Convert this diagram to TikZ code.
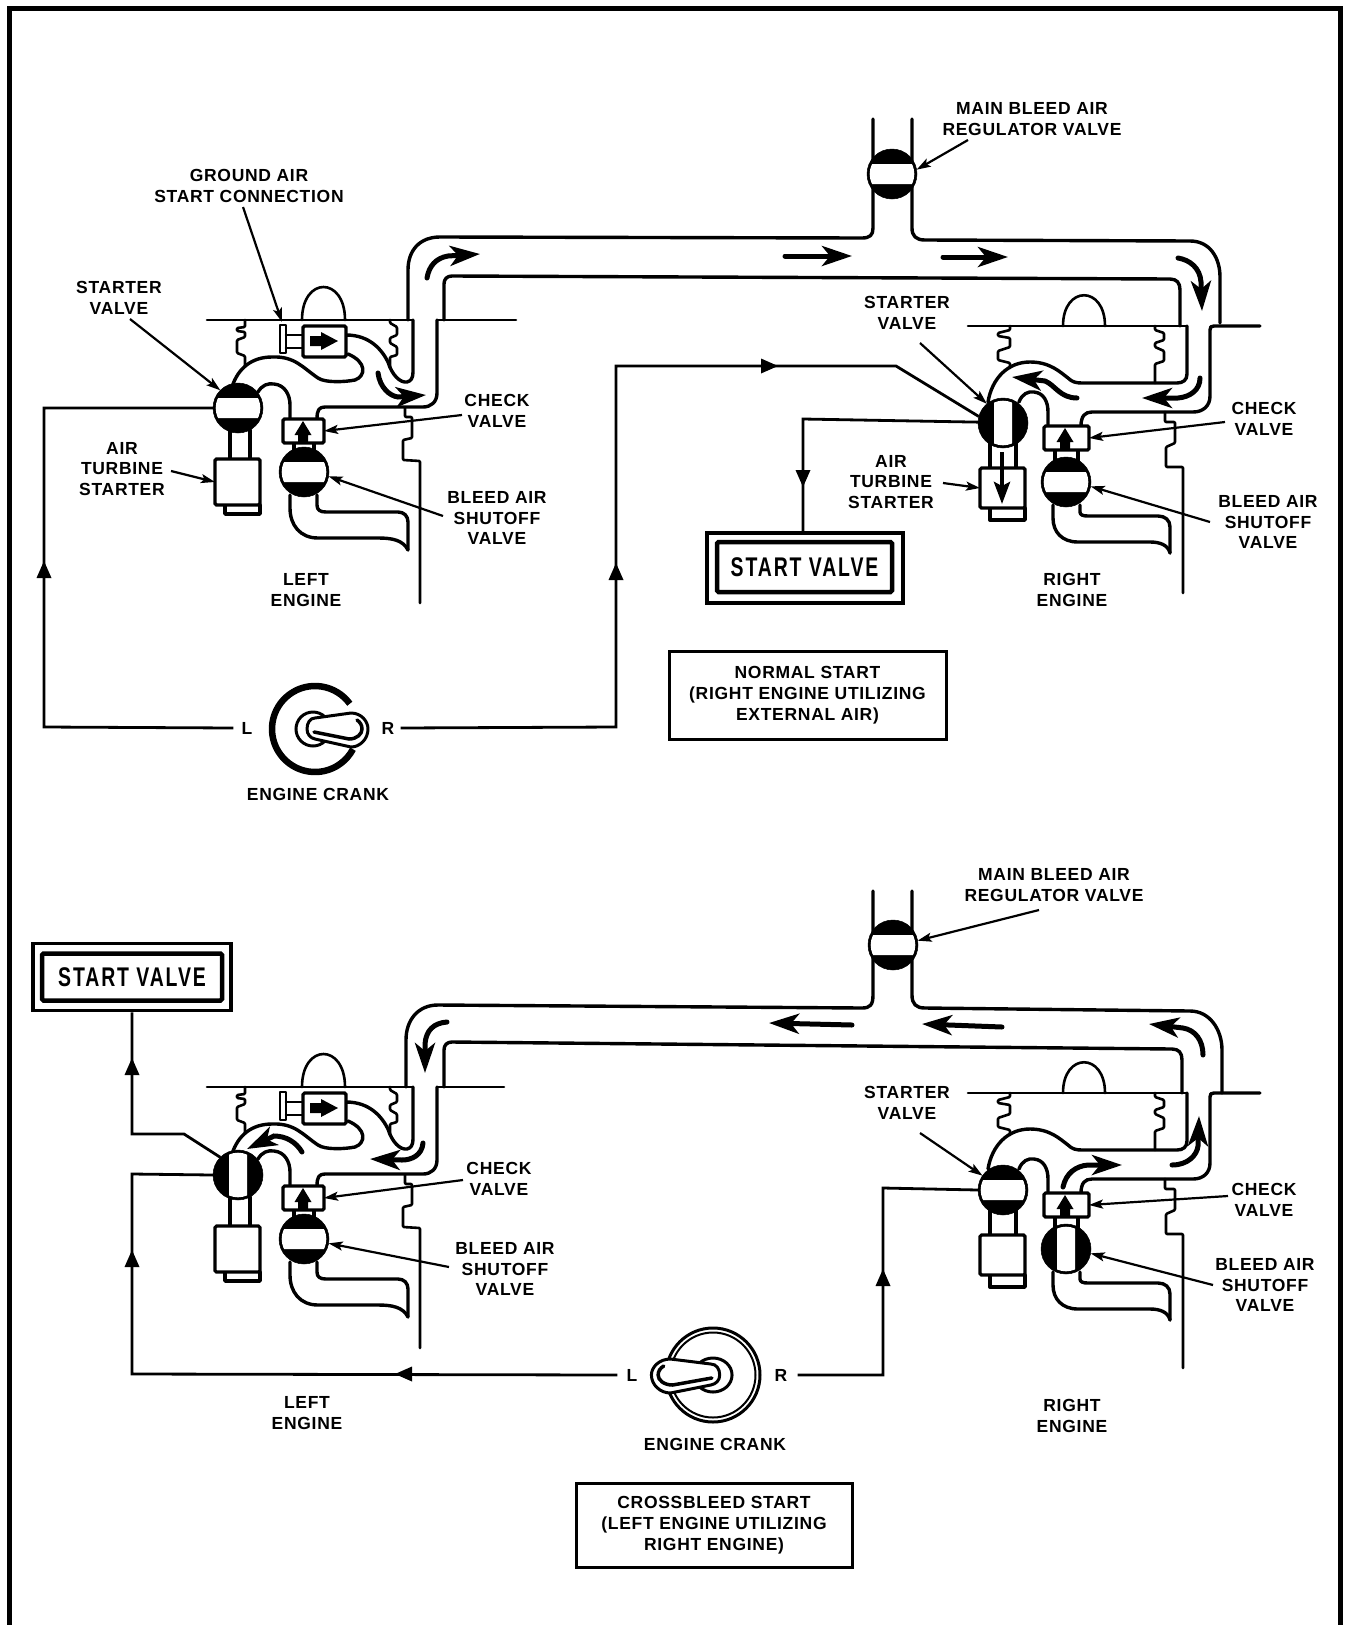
\documentclass[tikz,border=0pt]{standalone}
\usepackage{fontspec}
\setmainfont[LetterSpace=4]{Liberation Sans}
\newfontfamily\svfont[FakeStretch=0.72,LetterSpace=7]{Liberation Sans}
\usetikzlibrary{arrows.meta}
\tikzset{
  pipe/.style={line width=3.4pt,line cap=round,line join=round},
  thin line/.style={line width=2.6pt,line cap=round,line join=round},
  ctl/.style={line width=2.8pt,line join=miter},
  lead/.style={line width=2.2pt,-{Stealth[length=14pt,width=9pt,inset=3pt]}},
  flow/.style={line width=5pt,line cap=round,-{Stealth[length=30pt,width=20pt,inset=8pt]}},
  lbl/.style={align=center,inner sep=0pt,font=\fontsize{17.5}{20.7}\selectfont\bfseries},
  valvebody/.style={circle,fill=black,draw=black,line width=0.5pt,minimum size=50pt,inner sep=0pt,outer sep=0pt},
  boxw/.style={rectangle,draw=black,fill=white,line width=3.2pt,rounded corners=1.5pt,inner sep=0pt,outer sep=0pt},
  titlebox/.style={rectangle,draw=black,line width=3pt,inner sep=0pt,align=center,font=\fontsize{17.5}{20.7}\selectfont\bfseries},
  svouter/.style={rectangle,draw=black,fill=white,line width=3.5pt,inner sep=0pt},
  svinner/.style={rectangle,draw=black,fill=white,line width=4.5pt,rounded corners=1.5pt,inner sep=0pt,font=\svfont\fontsize{27}{27}\selectfont\bfseries},
}
\newcommand\valve[5]{%
  \node[valvebody] (#1) at (#2,#3) {};
  \begin{scope}
    \clip (#2,#3) circle[radius=22.3pt];
    \fill[white,rounded corners=3pt,shift={(#2,#3)}] (-#4,-#5) rectangle (#4,#5);
  \end{scope}}
\newcommand\ctlmark[3]{\fill[shift={(#1,#2)},rotate=#3] (9,0) -- (-8,-7.5) -- (-8,7.5) -- cycle;}
\newcommand\blockup[2]{\fill[shift={(#1,#2)}] (0,-22) -- (8.5,-8) -- (5,-8) -- (5,0) -- (-5,0) -- (-5,-8) -- (-8.5,-8) -- cycle;}
\newcommand\engineL[6]{% suffix, dy, band half w, band half h, wall end, top line right end
\begin{scope}[shift={(0,#2)}]
  \draw[thin line] (207,320) -- (413,320) (437,320) -- (#6,320);
  \draw[thin line] (302,320) .. controls (302,276) and (345,276) .. (345,320);
  \draw[thin line,rounded corners=1pt] (245,320) -- (245,327) -- (237,328) -- (237,331) -- (245,332) -- (245,337) -- (237,340) -- (237,353) -- (245,356) -- (245,366);
  \draw[thin line,rounded corners=1pt] (390,320) -- (390,323) -- (397,327) -- (397,335) -- (390,338) -- (390,343) -- (397,347) -- (397,355) -- (390,357) -- (390,368);
  \draw[thin line,rounded corners=1pt] (405,408) -- (405,417) -- (412,417) -- (412,438) -- (403,440) -- (403,460) -- (420,461) -- (420,#5);
  % ducts
  \draw[pipe] (346,335) .. controls (370,335) and (382,350) .. (388,362) .. controls (392,375) and (400,383) .. (407,382) .. controls (411,381) and (413,378) .. (413,372) -- (413,320);
  \draw[pipe] (437,320) -- (437,393) .. controls (437,402) and (431,407) .. (423,407) -- (325,407) .. controls (319,407) and (317,410) .. (317,419);
  \draw[pipe] (232,387) .. controls (238,368) and (252,357) .. (272,357) .. controls (295,356) and (303,368) .. (318,378) .. controls (325,383) and (345,382) .. (355,380) .. controls (366,376) and (367,362) .. (348,354);
  \draw[pipe] (258,392) .. controls (262,385) and (268,383) .. (274,384) .. controls (285,385) and (290,395) .. (290,405) -- (290,419);
  \draw[pipe] (290,495) -- (290,508) .. controls (290,525) and (300,538) .. (318,538) -- (378,538) .. controls (392,538) and (403,540) .. (408,550);
  \draw[pipe] (317,495) -- (317,505) .. controls (317,510) and (320,512) .. (326,512) -- (398,512) .. controls (404,512) and (408,516) .. (408,522) -- (408,550);
  % ground connection
  \draw[thin line,fill=white] (280,325) rectangle (286,353);
  \draw[thin line] (286,335) -- (303,335) (286,348) -- (303,348);
  \node[boxw,minimum width=43pt,minimum height=31pt] (gnd#1) at (324.5,341.5) {};
  \fill (310,336) -- (321,336) -- (321,332) -- (338,341) -- (321,350) -- (321,346) -- (310,346) -- cycle;
  % starter
  \draw[pipe] (230,430) -- (230,462) (250,430) -- (250,462);
  \draw[pipe,fill=white] (225,505) -- (225,514) -- (260,514) -- (260,505);
  \node[boxw,minimum width=45pt,minimum height=46pt] (st#1) at (237.5,482) {};
  \valve{sv#1}{238}{408}{#3}{#4}
  % check + bleed
  \draw[pipe] (294,441) -- (294,452) (314,441) -- (314,452);
  \node[boxw,minimum width=41pt,minimum height=24pt] (ck#1) at (303.5,431) {};
  \blockup{303}{443}
  \valve{bv#1}{304}{472}{26}{10}
\end{scope}}
\newcommand\engineR[7]{% suffix, dy, sv hw, sv hh, bv hw, bv hh, wall end
\begin{scope}[shift={(0,#2)}]
  \draw[thin line] (968,326) -- (1187,326);
  \draw[thin line] (1063,326) .. controls (1063,285) and (1105,285) .. (1105,326);
  \draw[thin line,rounded corners=1pt] (1010,326) -- (1010,330) -- (998,333) -- (998,336) -- (1010,338) -- (1010,347) -- (998,351) -- (998,360) -- (1010,363) -- (1010,368);
  \draw[thin line,rounded corners=1pt] (1155,326) -- (1155,330) -- (1164,333) -- (1164,340) -- (1155,343) -- (1155,347) -- (1164,351) -- (1164,361) -- (1155,364) -- (1155,383);
  \draw[thin line,rounded corners=1pt] (1165,412) -- (1165,422) -- (1175,422) -- (1175,443) -- (1166,447) -- (1166,467) -- (1183,467) -- (1183,#7);
  \draw[pipe] (988,402) .. controls (992,378) and (1008,362) .. (1030,362) .. controls (1050,362) and (1060,372) .. (1068,378) .. controls (1072,382) and (1076,383) .. (1082,383) -- (1177,383) .. controls (1183,383) and (1187,380) .. (1187,374) -- (1187,326);
  \draw[pipe] (1019,402) .. controls (1022,394) and (1028,391) .. (1034,392) .. controls (1044,393) and (1048,402) .. (1048,412) -- (1048,427);
  \draw[pipe] (1260,326) -- (1214,326) .. controls (1211,326) and (1210,327) .. (1210,330) -- (1210,396) .. controls (1210,406) and (1203,412) .. (1193,412) -- (1092,412) .. controls (1085,412) and (1081,416) .. (1081,426);
  \draw[pipe] (1053,505) -- (1053,518) .. controls (1053,532) and (1062,542) .. (1078,542) -- (1150,542) .. controls (1160,542) and (1168,545) .. (1170,553);
  \draw[pipe] (1080,505) -- (1080,512) .. controls (1080,515) and (1083,516) .. (1088,516) -- (1158,516) .. controls (1165,516) and (1170,520) .. (1170,527) -- (1170,553);
  % starter
  \draw[pipe] (990,440) -- (990,470) (1016,440) -- (1016,470);
  \draw[pipe,fill=white] (990,508) -- (990,520) -- (1025,520) -- (1025,508);
  \node[boxw,minimum width=45pt,minimum height=40pt] (st#1) at (1002.5,488) {};
  \valve{sv#1}{1003}{423}{#3}{#4}
  % check + bleed
  \draw[pipe] (1055,448) -- (1055,462) (1078,448) -- (1078,462);
  \node[boxw,minimum width=45pt,minimum height=24pt] (ck#1) at (1066.5,438) {};
  \blockup{1065}{450}
  \valve{bv#1}{1066}{482}{#5}{#6}
\end{scope}}
\newcommand\toggleswitch[3]{% x,y,xscale
\begin{scope}[shift={(#1,#2)},xscale=#3]
  \draw[line width=3pt,fill=white] (0,0) circle[radius=17pt];
  \draw[line width=3pt,fill=white,line join=round] (-6,0) .. controls (-6,-6) and (-3,-11) .. (2,-11) -- (38,-16) .. controls (48,-16) and (55,-8) .. (55,0) .. controls (55,10) and (47,18) .. (38,18) -- (2,10) .. controls (-3,9) and (-6,5) .. (-6,0) -- cycle;
  \draw[line width=3.5pt,line cap=round] (1,3) -- (36,10) .. controls (44,10) and (49,5) .. (49,0) .. controls (49,-4) and (47,-7) .. (44,-9);
\end{scope}}
\begin{document}
\begin{tikzpicture}[x=1pt,y=-1pt]
\useasboundingbox (0,0) rectangle (1348,1625);
\fill[white] (0,0) rectangle (1348,1625);
% frame
\draw[line width=5pt,line join=miter] (9,1625) -- (9,8) -- (1340,8) -- (1340,1625);

%% ===== TOP =====
\engineL{A}{0}{26}{10}{603}{516}
\engineR{B}{0}{9}{26}{26}{10}{593}
\draw[pipe] (408,320) -- (408,270) .. controls (408,250) and (420,237) .. (440,237) -- (862,238) .. controls (870,238) and (873,235) .. (873,228) -- (873,119);
\draw[pipe] (912,119) -- (912,228) .. controls (912,236) and (916,240) .. (925,240) -- (1190,241) .. controls (1210,241) and (1220,258) .. (1220,277) -- (1220,323);
\draw[pipe] (444,320) -- (444,284) .. controls (444,279) and (447,276) .. (452,276) -- (1170,279) .. controls (1177,279) and (1180,283) .. (1180,290) -- (1180,326);
\valve{regA}{892}{174}{26}{10}
% flow
\draw[flow] (427,278) .. controls (429,266) and (436,258) .. (448,256) -- (480,254);
\draw[flow] (785,256) -- (852,256);
\draw[flow] (943,257) -- (1008,257);
\draw[flow] (1178,258) .. controls (1190,260) and (1200,268) .. (1201,282) -- (1202,311);
\draw[flow] (1200,378) .. controls (1200,390) and (1190,397) .. (1178,398) -- (1142,398);
\draw[flow] (1077,398) .. controls (1060,398) and (1055,385) .. (1045,381) -- (1012,377);
\draw[flow] (378,373) .. controls (380,388) and (390,396) .. (398,397) -- (426,395);
\draw[line width=4pt,-{Stealth[length=22pt,width=16pt,inset=4pt]}] (1002,452) -- (1002,504);
% labels
\node[lbl] (reglA) at (1032,119) {MAIN BLEED AIR\\REGULATOR VALVE};
\node[lbl] (gndl) at (249,186) {GROUND AIR\\START CONNECTION};
\node[lbl] (svlA) at (119,298) {STARTER\\VALVE};
\node[lbl] (stlA) at (122,469) {AIR\\TURBINE\\STARTER};
\node[lbl] (cklA) at (497,411) {CHECK\\VALVE};
\node[lbl] (bvlA) at (497,518) {BLEED AIR\\SHUTOFF\\VALVE};
\node[lbl] (svlB) at (907,313) {STARTER\\VALVE};
\node[lbl] (stlB) at (891,482) {AIR\\TURBINE\\STARTER};
\node[lbl] (cklB) at (1264,419) {CHECK\\VALVE};
\node[lbl] (bvlB) at (1268,522) {BLEED AIR\\SHUTOFF\\VALVE};
\node[lbl] (enA) at (306,590) {LEFT\\ENGINE};
\node[lbl] (enB) at (1072,590) {RIGHT\\ENGINE};
\node[lbl] (crA) at (318,794) {ENGINE CRANK};
\node[lbl] (LA) at (247,728) {L};
\node[lbl] (RA) at (388,728) {R};
\node[titlebox,minimum width=277pt,minimum height=88pt] (normal) at (807.5,695) {NORMAL START\\(RIGHT ENGINE UTILIZING\\EXTERNAL AIR)};
% leaders
\coordinate (s1) at (968,140);  \draw[lead] (s1) -- (regA.10);
\coordinate (s2) at (243,207);  \draw[lead] (s2) -- (282,322);
\coordinate (s3) at (130,319);  \draw[lead] (s3) -- (svA.135);
\coordinate (s4) at (171,471);  \draw[lead] (s4) -- (stA.west);
\coordinate (s5) at (462,415);  \draw[lead] (s5) -- (ckA.east);
\coordinate (s6) at (443,516);  \draw[lead] (s6) -- (bvA.-10);
\coordinate (s7) at (920,343);  \draw[lead] (s7) -- (svB.130);
\coordinate (s8) at (943,483);  \draw[lead] (s8) -- (stB.west);
\coordinate (s9) at (1225,422); \draw[lead] (s9) -- (ckB.east);
\coordinate (s10) at (1210,522);\draw[lead] (s10) -- (bvB.-10);
% switch
\draw[line width=6.5pt] (315,729) ++(36:43pt) arc[start angle=36,end angle=332,radius=43pt];
\toggleswitch{313}{729}{1}
% control wiring
\coordinate (a1) at (44,408); \coordinate (a2) at (44,727);
\draw[ctl] (svA.west) -- (a1) -- (a2) -- ([xshift=-8pt]LA.west);
\coordinate (b1) at (616,727); \coordinate (b2) at (616,366); \coordinate (b3) at (896,366);
\draw[ctl] ([xshift=6pt]RA.east) -- (b1) -- (b2) -- (b3) -- (svB.165);
\coordinate (c1) at (803,419);
\node[svouter,minimum width=196pt,minimum height=70pt] (boxA) at (805,568) {};
\node[svinner,minimum width=175pt,minimum height=50pt] (boxAi) at (804.5,567) {START VALVE};
\draw[ctl] (svB.178) -- (c1) -- (c1 |- boxA.north);
\ctlmark{44}{570}{90}
\ctlmark{616}{572}{90}
\ctlmark{769}{366}{0}
\ctlmark{803}{478}{270}

%% ===== BOTTOM =====
\engineL{C}{767}{9}{26}{581}{504}
\engineR{D}{767}{26}{10}{9}{26}{601}
\draw[pipe] (406,1087) -- (406,1040) .. controls (406,1020) and (418,1005) .. (438,1005) -- (862,1008) .. controls (870,1008) and (873,1005) .. (873,995) -- (873,891);
\draw[pipe] (912,891) -- (912,995) .. controls (912,1004) and (916,1008) .. (925,1008) -- (1190,1011) .. controls (1210,1011) and (1222,1030) .. (1222,1050) -- (1222,1093);
\draw[pipe] (444,1087) -- (444,1050) .. controls (444,1045) and (447,1042) .. (452,1042) -- (1172,1049) .. controls (1179,1049) and (1182,1053) .. (1182,1060) -- (1182,1093);
\valve{regC}{893}{945}{26}{10}
\draw[flow] (447,1022) .. controls (434,1023) and (426,1030) .. (425,1044) -- (425,1073);
\draw[flow] (852,1025) -- (769,1023);
\draw[flow] (1002,1027) -- (922,1024);
\draw[flow] (1203,1055) .. controls (1203,1040) and (1195,1030) .. (1183,1028) -- (1149,1024);
\draw[flow] (423,1143) .. controls (422,1155) and (412,1160) .. (402,1160) -- (370,1159);
\draw[flow] (302,1152) .. controls (296,1142) and (286,1136) .. (274,1136) -- (247,1149);
\draw[flow] (1063,1187) .. controls (1066,1173) and (1076,1166) .. (1088,1165) -- (1122,1165);
\draw[flow] (1172,1165) .. controls (1188,1165) and (1197,1155) .. (1198,1146) -- (1199,1116);
% labels
\node[lbl] (reglC) at (1054,885) {MAIN BLEED AIR\\REGULATOR VALVE};
\node[lbl] (cklC) at (499,1179) {CHECK\\VALVE};
\node[lbl] (bvlC) at (505,1269) {BLEED AIR\\SHUTOFF\\VALVE};
\node[lbl] (svlD) at (907,1103) {STARTER\\VALVE};
\node[lbl] (cklD) at (1264,1200) {CHECK\\VALVE};
\node[lbl] (bvlD) at (1265,1285) {BLEED AIR\\SHUTOFF\\VALVE};
\node[lbl] (enC) at (307,1413) {LEFT\\ENGINE};
\node[lbl] (enD) at (1072,1416) {RIGHT\\ENGINE};
\node[lbl] (crC) at (715,1444) {ENGINE CRANK};
\node[lbl] (LC) at (632,1375) {L};
\node[lbl] (RC) at (781,1375) {R};
\node[titlebox,minimum width=276pt,minimum height=84pt] (cross) at (714,1525) {CROSSBLEED START\\(LEFT ENGINE UTILIZING\\RIGHT ENGINE)};
% leaders
\coordinate (t1) at (1039,910);  \draw[lead] (t1) -- (regC.10);
\coordinate (t5) at (463,1180);  \draw[lead] (t5) -- (ckC.east);
\coordinate (t6) at (449,1267);  \draw[lead] (t6) -- (bvC.-10);
\coordinate (t7) at (920,1133);  \draw[lead] (t7) -- (svD.145);
\coordinate (t9) at (1228,1196); \draw[lead] (t9) -- (ckD.east);
\coordinate (t10) at (1213,1285);\draw[lead] (t10) -- (bvD.-10);
% switch
\draw[line width=3pt] (713,1375) circle[radius=47pt];
\draw[line width=2pt] (713,1375) circle[radius=42.5pt];
\toggleswitch{713}{1375}{-1.12}
% control wiring
\node[svouter,minimum width=198pt,minimum height=67pt] (boxC) at (132,977) {};
\node[svinner,minimum width=180pt,minimum height=47pt] (boxCi) at (132,977) {START VALVE};
\coordinate (d1) at (132,1134); \coordinate (d2) at (184,1134);
\draw[ctl] (boxC.south) -- (d1) -- (d2) -- (svC.135);
\coordinate (e1) at (132,1174); \coordinate (e2) at (132,1374);
\draw[ctl] (svC.west) -- (e1) -- (e2) -- ([xshift=-9pt]LC.west);
\coordinate (f1) at (883,1375); \coordinate (f2) at (883,1188);
\draw[ctl] ([xshift=10pt]RC.east) -- (f1) -- (f2) -- (svD.west);
\ctlmark{132}{1067}{90}
\ctlmark{132}{1259}{90}
\ctlmark{404}{1374}{180}
\ctlmark{883}{1278}{90}
\end{tikzpicture}
\end{document}
